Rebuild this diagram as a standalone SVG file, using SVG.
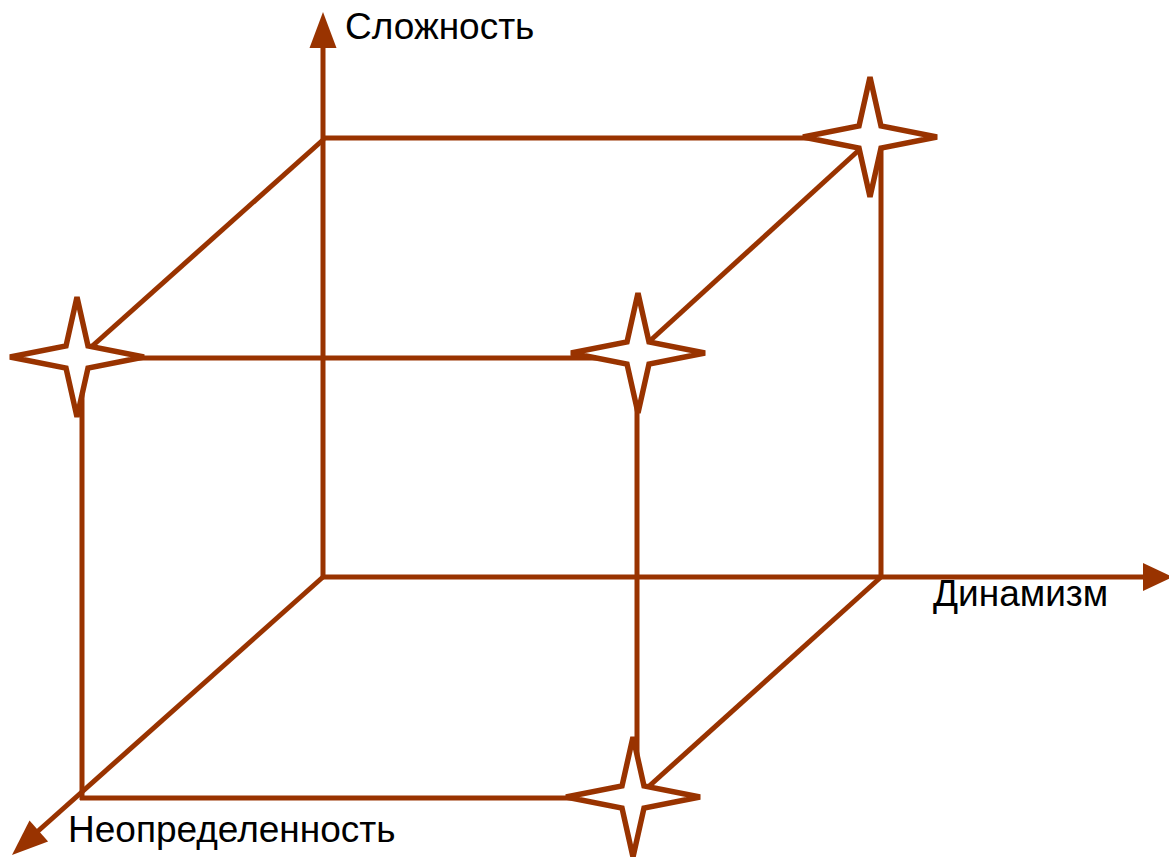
<svg xmlns="http://www.w3.org/2000/svg" xmlns:xlink="http://www.w3.org/1999/xlink" width="1169" height="857" viewBox="0 0 1169 857">
<style>
.ln{stroke:#993300;stroke-width:5;fill:none;stroke-linecap:butt}
.star{fill:#ffffff;stroke:#993300;stroke-width:5.5;stroke-linejoin:miter}
.ah{fill:#993300;stroke:none}
.lbl{font-family:"Liberation Sans",Arial,sans-serif;font-size:37px;fill:#000000}
</style>
<defs>
<path id="starShape" class="star" d="M0,-60 L11,-11 L67,0 L11,11 L0,60 L-11,11 L-67,0 L-11,-11 Z"/>
</defs>
<rect width="1169" height="857" fill="#ffffff"/>
<g id="connectors">
<line class="ln" x1="323" y1="578" x2="323" y2="46"/>
<polygon class="ah" points="323,12 309.5,48 336.5,48"/>
<line class="ln" x1="321" y1="577" x2="1145" y2="577"/>
<polygon class="ah" points="1173,577 1143,563 1143,591"/>
<line class="ln" x1="323" y1="577" x2="37" y2="832"/>
<polygon class="ah" points="12,855 29.5,820.6 48.1,841.4"/>
<line class="ln" x1="321" y1="138" x2="870" y2="138"/>
<line class="ln" x1="881" y1="140" x2="881" y2="579"/>
<line class="ln" x1="324" y1="139" x2="80" y2="357"/>
<line class="ln" x1="870" y1="140" x2="640" y2="350"/>
<line class="ln" x1="881" y1="577" x2="636" y2="798"/>
<line class="ln" x1="77" y1="358" x2="638" y2="358"/>
<line class="ln" x1="82" y1="356" x2="82" y2="800"/>
<line class="ln" x1="80" y1="798" x2="634" y2="798"/>
<line class="ln" x1="637" y1="353" x2="637" y2="798"/>
</g>
<g id="star-top-right"><use xlink:href="#starShape" x="870" y="137"/></g>
<g id="star-front-left"><use xlink:href="#starShape" x="77" y="357"/></g>
<g id="star-front-right"><use xlink:href="#starShape" x="638" y="353"/></g>
<g id="star-bottom"><use xlink:href="#starShape" x="633" y="797"/></g>
<g id="label-complexity"><text class="lbl" x="345" y="39">Сложность</text></g>
<g id="label-dynamism"><text class="lbl" x="933" y="606">Динамизм</text></g>
<g id="label-uncertainty"><text class="lbl" x="68" y="842">Неопределенность</text></g>
</svg>
